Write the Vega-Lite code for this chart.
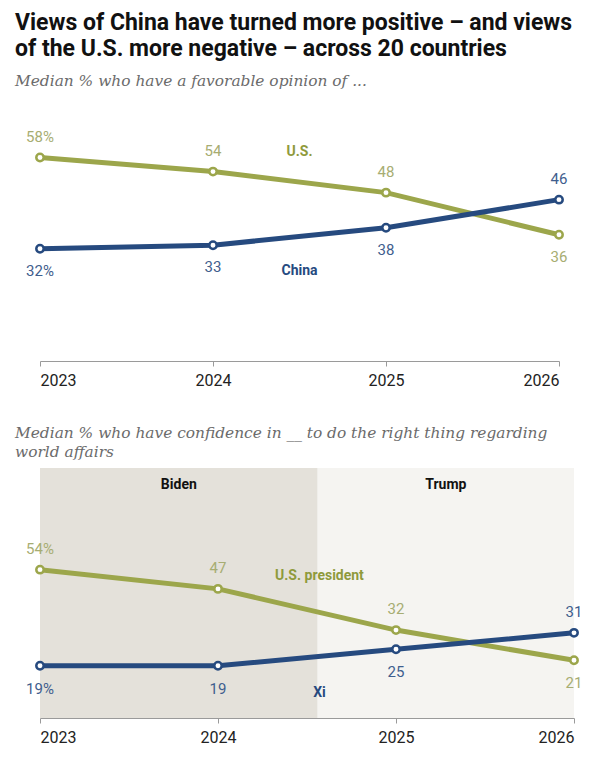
{
  "$schema": "https://vega.github.io/schema/vega-lite/v6.json",
  "background": "white",
  "padding": {"left": 15, "top": 12, "right": 8, "bottom": 4},
  "title": {
    "text": ["Views of China have turned more positive – and views", "of the U.S. more negative – across 20 countries"],
    "anchor": "start",
    "frame": "bounds",
    "font": "Roboto",
    "fontSize": 23,
    "fontWeight": "bold",
    "lineHeight": 26,
    "color": "#111111",
    "offset": 13
  },
  "config": {
    "view": {"stroke": null},
    "font": "Roboto",
    "axis": {
      "grid": false,
      "domainColor": "#9a9a9a",
      "tickColor": "#9a9a9a",
      "tickSize": 5,
      "labelFont": "Roboto",
      "labelFontSize": 16,
      "labelColor": "#222222",
      "labelPadding": 6,
      "title": null
    }
  },
  "datasets": {
    "favorable": [
      {"year": 2023, "series": "U.S.", "value": 58},
      {"year": 2024, "series": "U.S.", "value": 54},
      {"year": 2025, "series": "U.S.", "value": 48},
      {"year": 2026, "series": "U.S.", "value": 36},
      {"year": 2023, "series": "China", "value": 32},
      {"year": 2024, "series": "China", "value": 33},
      {"year": 2025, "series": "China", "value": 38},
      {"year": 2026, "series": "China", "value": 46}
    ],
    "favLabels": [
      {"year": 2024.5, "value": 59.5, "series": "U.S."},
      {"year": 2024.5, "value": 25.7, "series": "China"}
    ],
    "confidence": [
      {"year": 2023, "series": "U.S. president", "value": 54},
      {"year": 2024, "series": "U.S. president", "value": 47},
      {"year": 2025, "series": "U.S. president", "value": 32},
      {"year": 2026, "series": "U.S. president", "value": 21},
      {"year": 2023, "series": "Xi", "value": 19},
      {"year": 2024, "series": "Xi", "value": 19},
      {"year": 2025, "series": "Xi", "value": 25},
      {"year": 2026, "series": "Xi", "value": 31}
    ],
    "confLabels": [
      {"year": 2024.57, "value": 51.8, "series": "U.S. president"},
      {"year": 2024.57, "value": 9.1, "series": "Xi"}
    ],
    "presidents": [
      {"yearFrom": 2023, "yearTo": 2024.56, "president": "Biden"},
      {"yearFrom": 2024.56, "yearTo": 2026, "president": "Trump"}
    ]
  },
  "spacing": 37,
  "vconcat": [
    {
      "width": 519,
      "height": 228,
      "title": {
        "text": "Median % who have a favorable opinion of ...",
        "anchor": "start",
        "frame": "group",
        "dx": -25,
        "font": "DejaVu Serif",
        "fontStyle": "italic",
        "fontWeight": "normal",
        "fontSize": 15.4,
        "color": "#6b6b6b",
        "offset": 40
      },
      "data": {"name": "favorable"},
      "encoding": {
        "x": {
          "field": "year",
          "type": "quantitative",
          "scale": {"domain": [2023, 2026], "nice": false, "zero": false},
          "axis": {"values": [2023, 2024, 2025, 2026], "format": "d"}
        },
        "y": {
          "field": "value",
          "type": "quantitative",
          "scale": {"domain": [0, 65], "nice": false},
          "axis": null
        }
      },
      "layer": [
        {
          "mark": {"type": "line", "strokeWidth": 5},
          "encoding": {
            "stroke": {
              "field": "series",
              "type": "nominal",
              "scale": {"domain": ["U.S.", "China"], "range": ["#9ca64b", "#264a7f"]},
              "legend": null
            }
          }
        },
        {
          "mark": {"type": "point", "filled": false, "fill": "white", "fillOpacity": 1, "strokeWidth": 2.5, "size": 55, "opacity": 1},
          "encoding": {
            "stroke": {"field": "series", "type": "nominal", "legend": null}
          }
        },
        {
          "transform": [
            {"filter": "(datum.series == 'U.S.' && datum.year < 2026) || (datum.series == 'China' && datum.year == 2026)"},
            {"calculate": "datum.year == 2023 ? datum.value + '%' : '' + datum.value", "as": "label"}
          ],
          "mark": {"type": "text", "dy": -21, "fontSize": 15, "font": "Roboto"},
          "encoding": {
            "text": {"field": "label"},
            "fill": {
              "field": "series",
              "type": "nominal",
              "scale": {"domain": ["U.S.", "China"], "range": ["#a7ad72", "#3f5e8e"]},
              "legend": null
            }
          }
        },
        {
          "transform": [
            {"filter": "!((datum.series == 'U.S.' && datum.year < 2026) || (datum.series == 'China' && datum.year == 2026))"},
            {"calculate": "datum.year == 2023 ? datum.value + '%' : '' + datum.value", "as": "label"}
          ],
          "mark": {"type": "text", "dy": 22, "fontSize": 15, "font": "Roboto"},
          "encoding": {
            "text": {"field": "label"},
            "fill": {"field": "series", "type": "nominal", "legend": null}
          }
        },
        {
          "data": {"name": "favLabels"},
          "mark": {"type": "text", "fontSize": 14, "fontWeight": "bold", "font": "Roboto"},
          "encoding": {
            "text": {"field": "series"},
            "color": {
              "field": "series",
              "type": "nominal",
              "scale": {"domain": ["U.S.", "China"], "range": ["#8f9a3c", "#264a7f"]},
              "legend": null
            }
          }
        }
      ]
    },
    {
      "width": 534,
      "height": 250,
      "title": {
        "text": ["Median % who have confidence in __ to do the right thing regarding", "world affairs"],
        "anchor": "start",
        "frame": "group",
        "dx": -25,
        "font": "DejaVu Serif",
        "fontStyle": "italic",
        "fontWeight": "normal",
        "fontSize": 15.4,
        "lineHeight": 19,
        "color": "#6b6b6b",
        "offset": 8
      },
      "layer": [
        {
          "data": {"name": "presidents"},
          "mark": {"type": "rect"},
          "encoding": {
            "x": {
              "field": "yearFrom",
              "type": "quantitative",
              "scale": {"domain": [2023, 2026], "nice": false, "zero": false},
              "axis": {"values": [2023, 2024, 2025, 2026], "format": "d"}
            },
            "x2": {"field": "yearTo"},
            "color": {
              "condition": {"test": "datum.president == 'Biden'", "value": "#e4e1da"},
              "value": "#f5f4f1"
            }
          }
        },
        {
          "data": {"name": "presidents"},
          "transform": [{"calculate": "(datum.yearFrom + datum.yearTo) / 2", "as": "mid"}],
          "mark": {"type": "text", "fontSize": 14, "fontWeight": "bold", "font": "Roboto", "color": "#111111"},
          "encoding": {
            "x": {"field": "mid", "type": "quantitative"},
            "y": {"datum": 84.7, "type": "quantitative", "scale": {"domain": [0, 91], "nice": false}, "axis": null},
            "text": {"field": "president"}
          }
        },
        {
          "data": {"name": "confidence"},
          "encoding": {
            "x": {"field": "year", "type": "quantitative"},
            "y": {"field": "value", "type": "quantitative"}
          },
          "layer": [
            {
              "mark": {"type": "line", "strokeWidth": 5},
              "encoding": {
                "stroke": {
                  "field": "series",
                  "type": "nominal",
                  "scale": {"domain": ["U.S. president", "Xi"], "range": ["#9ca64b", "#264a7f"]},
                  "legend": null
                }
              }
            },
            {
              "mark": {"type": "point", "filled": false, "fill": "white", "fillOpacity": 1, "strokeWidth": 2.5, "size": 55, "opacity": 1},
              "encoding": {
                "stroke": {"field": "series", "type": "nominal", "legend": null}
              }
            },
            {
              "transform": [
                {"filter": "(datum.series == 'U.S. president' && datum.year < 2026) || (datum.series == 'Xi' && datum.year == 2026)"},
                {"calculate": "datum.year == 2023 ? datum.value + '%' : '' + datum.value", "as": "label"}
              ],
              "mark": {"type": "text", "dy": -21, "fontSize": 15, "font": "Roboto"},
              "encoding": {
                "text": {"field": "label"},
                "fill": {
                  "field": "series",
                  "type": "nominal",
                  "scale": {"domain": ["U.S. president", "Xi"], "range": ["#a7ad72", "#3f5e8e"]},
                  "legend": null
                }
              }
            },
            {
              "transform": [
                {"filter": "!((datum.series == 'U.S. president' && datum.year < 2026) || (datum.series == 'Xi' && datum.year == 2026))"},
                {"calculate": "datum.year == 2023 ? datum.value + '%' : '' + datum.value", "as": "label"}
              ],
              "mark": {"type": "text", "dy": 23, "fontSize": 15, "font": "Roboto"},
              "encoding": {
                "text": {"field": "label"},
                "fill": {"field": "series", "type": "nominal", "legend": null}
              }
            }
          ]
        },
        {
          "data": {"name": "confLabels"},
          "mark": {"type": "text", "fontSize": 14, "fontWeight": "bold", "font": "Roboto"},
          "encoding": {
            "x": {"field": "year", "type": "quantitative"},
            "y": {"field": "value", "type": "quantitative"},
            "text": {"field": "series"},
            "color": {
              "field": "series",
              "type": "nominal",
              "scale": {"domain": ["U.S. president", "Xi"], "range": ["#8f9a3c", "#264a7f"]},
              "legend": null
            }
          }
        }
      ]
    }
  ]
}
